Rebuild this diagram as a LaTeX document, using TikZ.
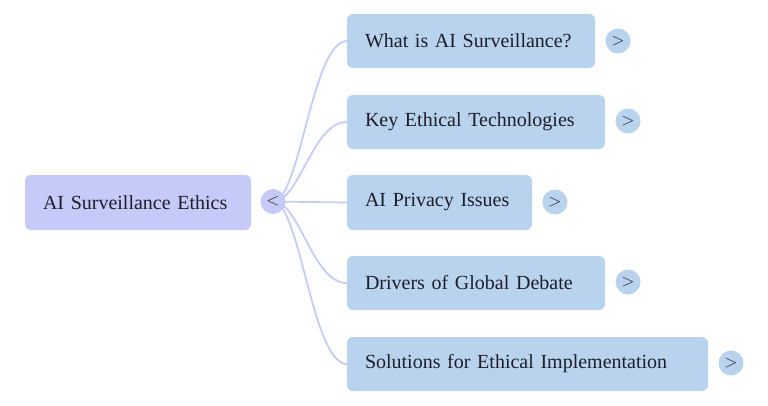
\documentclass[tikz,border=0pt]{standalone}
\usepackage{fontspec}
\setmainfont{Liberation Serif}
\definecolor{rootfill}{HTML}{C5CAF9}
\definecolor{kidfill}{HTML}{B9D3EE}
\definecolor{linkcol}{HTML}{C6CCFA}
\definecolor{txtcol}{HTML}{1E1E2A}
\begin{document}
\begin{tikzpicture}[x=1pt,y=-1pt,
  boxbase/.style={rounded corners=6pt, inner xsep=18pt, inner ysep=0pt, align=left,
    minimum height=54pt, text=txtcol, font=\fontsize{20}{24}\selectfont},
  rootbox/.style={boxbase, fill=rootfill, minimum height=55pt},
  kidbox/.style={boxbase, fill=kidfill},
  rootbtn/.style={circle, fill=rootfill, minimum size=25pt, inner sep=0pt, text=txtcol, font=\fontsize{16}{18}\selectfont},
  kidbtn/.style={circle, fill=kidfill, minimum size=25pt, inner sep=0pt, text=txtcol, font=\fontsize{16}{18}\selectfont},
  link/.style={draw=linkcol, line width=1.8pt}
]
\useasboundingbox (0,0) rectangle (768,405);
% connectors first (behind)
\coordinate (hub) at (273,201.5);
\coordinate (e1) at (347,41);
\coordinate (e2) at (347,122);
\coordinate (e3) at (347,202.5);
\coordinate (e4) at (347,283);
\coordinate (e5) at (347,364);
\draw[link] (hub) .. controls (300,201.5) and (312,41) .. (e1);
\draw[link] (hub) .. controls (300,201.5) and (312,122) .. (e2);
\draw[link] (hub) -- (e3);
\draw[link] (hub) .. controls (300,201.5) and (312,283) .. (e4);
\draw[link] (hub) .. controls (300,201.5) and (312,364) .. (e5);
% root
\node[rootbox, text width=190pt] (root) at (138,202.5) {AI Surveillance Ethics};
\node[rootbtn] (rootb) at (hub) {$<$};
% children
\node[kidbox, text width=212pt] (k1) at (471,41) {What is AI Surveillance?};
\node[kidbox, text width=222pt] (k2) at (476,122) {Key Ethical Technologies};
\node[kidbox, text width=149pt, minimum height=55pt] (k3) at (439.5,202.5) {AI Privacy Issues};
\node[kidbox, text width=222pt] (k4) at (476,283) {Drivers of Global Debate};
\node[kidbox, text width=325pt] (k5) at (527.5,364) {Solutions for Ethical Implementation};
\node[kidbtn] (b1) at (618,41) {$>$};
\node[kidbtn] (b2) at (628,121) {$>$};
\node[kidbtn] (b3) at (555,202) {$>$};
\node[kidbtn] (b4) at (628,282) {$>$};
\node[kidbtn] (b5) at (731,363) {$>$};
\end{tikzpicture}
\end{document}
